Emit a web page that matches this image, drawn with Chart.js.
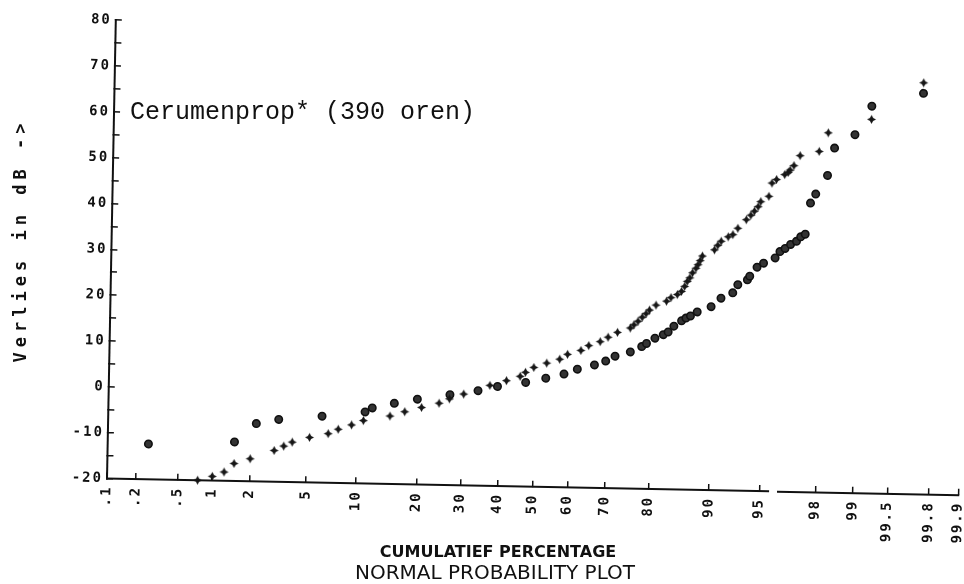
<!DOCTYPE html>
<html>
<head>
<meta charset="utf-8">
<script src="https://cdn.jsdelivr.net/npm/chart.js@4.4.0/dist/chart.umd.min.js"></script>
<style>
  html, body { margin: 0; padding: 0; background: #fff; }
  canvas { display: block; }
</style>
</head>
<body>
<canvas id="plot" width="964" height="584"></canvas>
<script>
// probability axis: cumulative percentages and how they are printed
const pctTicks = [0.1, 0.2, 0.5, 1, 2, 5, 10, 20, 30, 40, 50, 60, 70, 80, 90, 95, 98, 99, 99.5, 99.8, 99.9];
const pctLabels = ['.1', '.2', '.5', '1', '2', '5', '10', '20', '30', '40', '50', '60', '70', '80', '90', '95', '98', '99', '99.5', '99.8', '99.9'];

// hearing loss axis (dB)
const dbMin = -20;
const dbMax = 80;
const dbStep = 5;

// "+" series: cumulative percentage / loss in dB
const plusPct = [0.75, 1.0, 1.25, 1.5, 2.0, 3.0, 3.5, 4.0, 5.2, 6.8,
  7.8, 9.3, 10.8, 14.8, 17.4, 20.7, 24.5, 26.9, 30.4, 37.3,
  41.9, 45.8, 47.3, 49.7, 53.4, 57.1, 59.3, 63.0, 65.1, 68.1,
  70.1, 72.4, 75.4, 76.2, 77.1, 78.0, 78.8, 79.5, 80.8, 82.8,
  83.6, 84.7, 85.4, 85.9, 86.3, 86.7, 87.1, 87.6, 87.9, 88.2,
  88.5, 90.1, 90.5, 90.9, 91.7, 92.2, 92.7, 93.5, 93.9, 94.2,
  94.5, 94.7, 95.3, 95.5, 95.8, 96.3, 96.5, 96.6, 96.8, 97.1,
  97.9, 98.2, 99.2, 99.73];
const plusDb = [-20, -19.1, -18.1, -16.2, -15.1, -13.2, -12.2, -11.3, -10.2, -9.3,
  -8.3, -7.3, -6.3, -5.2, -4.2, -3.2, -2.2, -1.2, -0.1, 1.9,
  3.0, 4.0, 4.9, 6.0, 7.0, 7.9, 9.0, 9.9, 11.0, 11.9,
  12.9, 14.0, 15.0, 15.7, 16.5, 17.4, 18.2, 19.0, 20.1, 21.0,
  21.8, 22.5, 23.2, 24.3, 25.4, 26.2, 27.3, 28.3, 29.1, 30.0,
  31.0, 32.4, 33.4, 34.3, 35.3, 35.8, 37.2, 39.1, 40.1, 41.0,
  42.0, 43.1, 44.3, 47.2, 48.0, 49.1, 49.6, 50.1, 51.1, 53.3,
  54.3, 58.4, 61.5, 69.7];

// dot series: cumulative percentage / loss in dB
const dotPct = [0.26, 1.5, 2.2, 3.2, 6.2, 11.0, 12.0, 15.5, 19.8, 27.0,
  34.1, 39.4, 47.4, 53.2, 58.4, 62.1, 66.7, 69.6, 71.9, 75.5,
  78.0, 79.0, 80.7, 82.3, 83.2, 84.2, 85.5, 86.2, 86.9, 87.9,
  89.8, 91.0, 92.3, 92.8, 93.7, 93.9, 94.5, 95.0, 95.8, 96.1,
  96.4, 96.7, 97.0, 97.2, 97.4, 97.6, 97.8, 98.2, 98.4, 98.9,
  99.2, 99.73];
const dotDb = [-12.3, -11.5, -7.4, -6.4, -5.5, -4.4, -3.5, -2.4, -1.4, -0.3,
  0.7, 1.7, 2.7, 3.7, 4.7, 5.8, 6.8, 7.7, 8.8, 9.8,
  11.0, 11.7, 12.9, 13.7, 14.3, 15.6, 16.8, 17.4, 17.9, 18.8,
  20.0, 21.9, 23.1, 24.9, 26.0, 26.8, 28.8, 29.7, 30.9, 32.3,
  33.0, 33.9, 34.6, 35.6, 36.2, 43.0, 45.0, 49.1, 55.1, 58.1,
  64.4, 67.4];

const noteText = 'Cerumenprop* (390 oren)';
const yTitle = 'Verlies in dB ->';
const xTitle = 'CUMULATIEF PERCENTAGE';
const plotTitle = 'NORMAL PROBABILITY PLOT';

// the plotter paper sits slightly skewed; the x axis line is broken between 95 and 98
const TILT = 1.1 * Math.PI / 180;
const axisBreak = [95.7, 96.2];

// inverse of the standard normal CDF (Acklam)
function probit(p) {
  const a = [-39.69683028665376, 220.9460984245205, -275.9285104469687, 138.3577518672690, -30.66479806614716, 2.506628277459239];
  const b = [-54.47609879822406, 161.5858368580409, -155.6989798598866, 66.80131188771972, -13.28068155288572];
  const c = [-0.007784894002430293, -0.3223964580411365, -2.400758277161838, -2.549671348451121, 4.374664141464968, 2.938163982698783];
  const d = [0.007784695709041462, 0.3224671290700398, 2.445134137142996, 3.754408661907416];
  const lo = 0.02425;
  let q, r;
  if (p < lo) {
    q = Math.sqrt(-2 * Math.log(p));
    return (((((c[0] * q + c[1]) * q + c[2]) * q + c[3]) * q + c[4]) * q + c[5]) / ((((d[0] * q + d[1]) * q + d[2]) * q + d[3]) * q + 1);
  }
  if (p > 1 - lo) {
    q = Math.sqrt(-2 * Math.log(1 - p));
    return -(((((c[0] * q + c[1]) * q + c[2]) * q + c[3]) * q + c[4]) * q + c[5]) / ((((d[0] * q + d[1]) * q + d[2]) * q + d[3]) * q + 1);
  }
  q = p - 0.5;
  r = q * q;
  return (((((a[0] * r + a[1]) * r + a[2]) * r + a[3]) * r + a[4]) * r + a[5]) * q / (((((b[0] * r + b[1]) * r + b[2]) * r + b[3]) * r + b[4]) * r + 1);
}

// normal probability scale, values given in percent
class ProbabilityScale extends Chart.Scale {
  determineDataLimits() {
    this.min = this.options.min;
    this.max = this.options.max;
  }
  buildTicks() {
    return pctTicks.map(v => ({ value: v }));
  }
  configure() {
    super.configure();
    this._zStart = probit(this.min / 100);
    this._zRange = probit(this.max / 100) - this._zStart;
  }
  getLabelForValue(v) {
    return String(v);
  }
  getPixelForValue(v) {
    return this.getPixelForDecimal((probit(v / 100) - this._zStart) / this._zRange);
  }
  getValueForPixel() {
    return null;
  }
}
ProbabilityScale.id = 'probability';
ProbabilityScale.defaults = {};
Chart.register(ProbabilityScale);

function plusMarker() {
  const c = document.createElement('canvas');
  c.width = c.height = 9;
  const g = c.getContext('2d');
  g.fillStyle = '#161616';
  g.beginPath();
  g.moveTo(4.5, 0); g.lineTo(6.1, 2.9); g.lineTo(9, 4.5); g.lineTo(6.1, 6.1);
  g.lineTo(4.5, 9); g.lineTo(2.9, 6.1); g.lineTo(0, 4.5); g.lineTo(2.9, 2.9);
  g.closePath();
  g.fill();
  return c;
}

const paper = {
  id: 'paper',
  beforeDraw(chart) {
    const { ctx, chartArea: a } = chart;
    ctx.save();
    ctx.letterSpacing = '2px';
    ctx.translate(a.left, a.bottom);
    ctx.rotate(TILT);
    ctx.translate(-a.left, -a.bottom);
  },
  afterDraw(chart) {
    const { ctx, chartArea: a } = chart;
    const x = chart.scales.x;
    const g0 = x.getPixelForValue(axisBreak[0]);
    const g1 = x.getPixelForValue(axisBreak[1]);
    ctx.strokeStyle = '#111';
    ctx.lineWidth = 2;
    ctx.beginPath();
    ctx.moveTo(a.left - 1, a.bottom);
    ctx.lineTo(g0, a.bottom);
    ctx.moveTo(g1, a.bottom + 0.5);
    ctx.lineTo(a.right + 1, a.bottom + 0.5);
    ctx.stroke();
    ctx.restore();

    ctx.save();
    ctx.fillStyle = '#111';
    ctx.letterSpacing = '0px';
    ctx.font = '25px "Liberation Mono"';
    ctx.textBaseline = 'alphabetic';
    ctx.fillText(noteText, 130, 119);

    ctx.save();
    ctx.translate(22, 243);
    ctx.rotate(-Math.PI / 2);
    ctx.font = 'bold 17px "DejaVu Sans Mono"';
    ctx.letterSpacing = '5px';
    ctx.textAlign = 'center';
    ctx.textBaseline = 'middle';
    ctx.fillText(yTitle, 2.5, 0);
    ctx.restore();

    ctx.textAlign = 'center';
    ctx.font = 'bold 16px "DejaVu Sans"';
    ctx.fillText(xTitle, 498, 557);
    ctx.font = '20px "DejaVu Sans"';
    ctx.fillText(plotTitle, 495, 579);
    ctx.restore();
  }
};

const tickFont = { family: '"DejaVu Sans Mono", monospace', weight: 'bold', size: 14 };

new Chart(document.getElementById('plot'), {
  type: 'scatter',
  data: {
    datasets: [
      {
        label: '+',
        data: plusPct.map((p, i) => ({ x: p, y: plusDb[i] })),
        pointStyle: plusMarker(),
        pointRadius: 4.5,
        clip: false
      },
      {
        label: 'o',
        data: dotPct.map((p, i) => ({ x: p, y: dotDb[i] })),
        pointStyle: 'circle',
        pointRadius: 3.7,
        backgroundColor: '#333',
        borderColor: '#111',
        borderWidth: 1.6,
        clip: false
      }
    ]
  },
  options: {
    responsive: false,
    animation: false,
    devicePixelRatio: 1,
    events: [],
    layout: { padding: { left: 0, top: 20, right: 5, bottom: 0 } },
    plugins: { legend: { display: false }, tooltip: { enabled: false } },
    scales: {
      x: {
        type: 'probability',
        position: 'bottom',
        min: 0.1,
        max: 99.9,
        border: { display: false },
        grid: { drawOnChartArea: false, drawTicks: true, tickLength: -6, color: '#111', lineWidth: 1.5 },
        ticks: {
          autoSkip: false,
          minRotation: 90,
          maxRotation: 90,
          padding: 13,
          color: '#111',
          font: tickFont,
          callback: (v, i) => pctLabels[i]
        },
        afterFit(s) {
          s.height = 105.5;
          s.paddingLeft = 0;
          s.paddingRight = 0;
        }
      },
      y: {
        type: 'linear',
        min: dbMin,
        max: dbMax,
        border: { display: true, color: '#111', width: 2 },
        grid: { drawOnChartArea: false, drawTicks: true, tickLength: -6, color: '#111', lineWidth: 1.5 },
        ticks: {
          stepSize: dbStep,
          padding: 10,
          color: '#111',
          font: tickFont,
          callback: v => (v % 10 === 0 ? String(v) : '')
        },
        afterFit(s) {
          s.width = 107;
          s.paddingTop = 0;
          s.paddingBottom = 0;
        }
      }
    }
  },
  plugins: [paper]
});
</script>
</body>
</html>
